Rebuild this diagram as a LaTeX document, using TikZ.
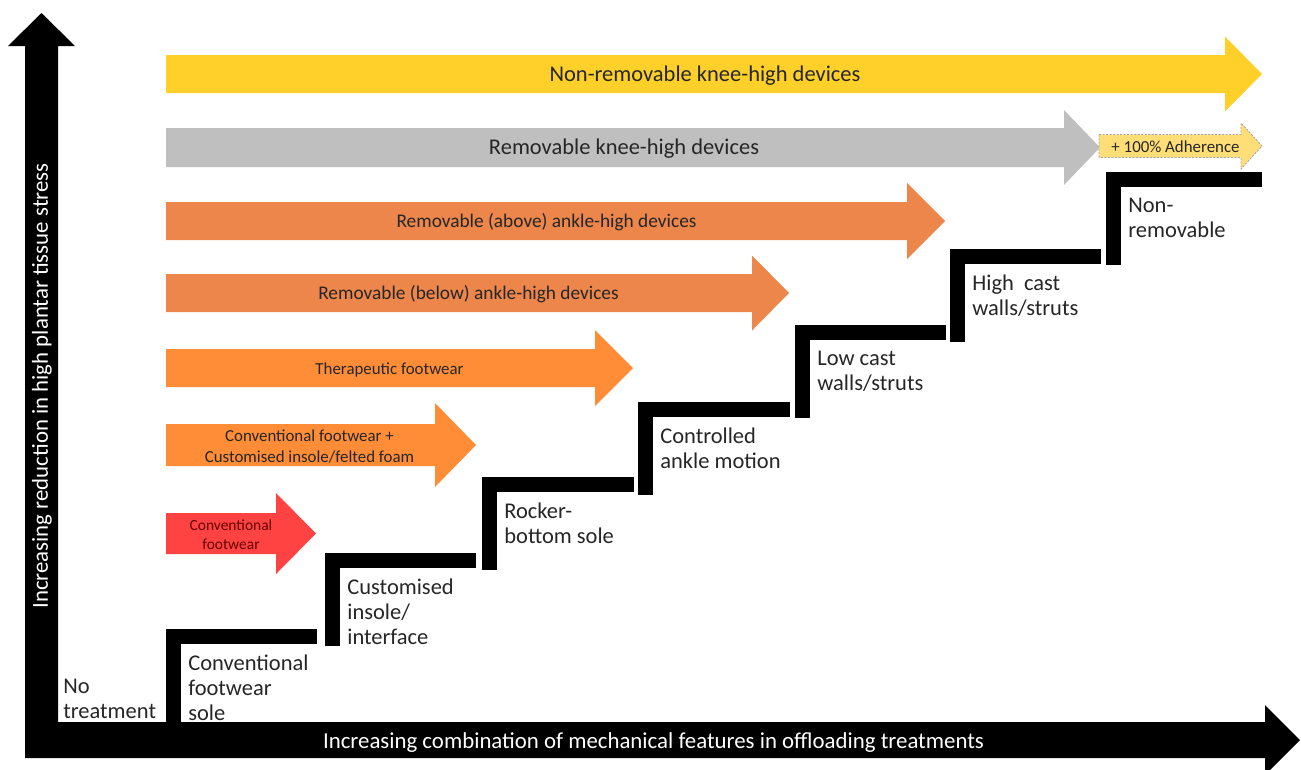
\documentclass[tikz,border=0pt]{standalone}
\usepackage{fontspec}
\setmainfont{Carlito}
\usepackage{xcolor}
\usepackage{tikz}
\usetikzlibrary{positioning}

\definecolor{barYellow}{RGB}{255,208,42}
\definecolor{barGray}{RGB}{191,191,191}
\definecolor{barOrange}{RGB}{236,134,74}
\definecolor{barLight}{RGB}{255,141,56}
\definecolor{barRed}{RGB}{255,66,66}
\definecolor{adhFill}{RGB}{255,222,120}
\definecolor{barText}{RGB}{38,38,38}
\definecolor{redText}{RGB}{100,0,0}

\begin{document}
\begin{tikzpicture}[
    x=0.02cm, y=-0.02cm,
    every node/.style={font=\fontsize{12.8}{14.2}\selectfont, inner sep=0pt},
    barlabel/.style={text=barText, align=center},
    steplabel/.style={anchor=north west, align=left, text=barText},
    axislabel/.style={text=white, font=\fontsize{13}{15}\selectfont},
    stair/.style={line width=0.3cm, line join=miter, line cap=butt},
    adharrow/.style={fill=adhFill, draw=gray!70, line width=0.5pt, dash pattern=on 1.2pt off 0.8pt}
]
\useasboundingbox (0,0) rectangle (1301,769);

% Axes
\fill[black] (25,758) -- (25,46) -- (8,46) -- (41.5,13) -- (75,46) -- (58,46) -- (58,722)
    -- (1265,722) -- (1265,705) -- (1300,740) -- (1265,775) -- (1265,758) -- cycle;
\node[axislabel, rotate=90] (ylab) at (42,386) {Increasing reduction in high plantar tissue stress};
\node[axislabel] (xlab) at (653.5,743) {Increasing combination of mechanical features in offloading treatments};

% Device arrows
\foreach \name/\yc/\hs/\hb/\tip/\hh/\col/\tx/\fs/\bs/\tc/\txt in {
    nonrem/74/19/1225/1262/37.5/barYellow/705/12.8/14.2/barText/{Non-removable knee-high devices},
    remknee/147.5/19.5/1064/1100/37.5/barGray/624/12.8/14.2/barText/{Removable knee-high devices},
    remabove/221/19/907/945/38/barOrange/546.5/11/13/barText/{Removable (above) ankle-high devices},
    rembelow/293/19/752/789/37.5/barOrange/468.5/11/13/barText/{Removable (below) ankle-high devices},
    therap/368/19/595/633/38/barLight/389.5/9.6/11.5/barText/{Therapeutic footwear},
    convins/445/21/435/476/42/barLight/309.5/9.6/11.9/barText/{Conventional footwear +\\Customised insole/felted foam},
    conv/533.5/20.5/276/316/40.5/barRed/231/8.8/10.8/redText/{Conventional\\footwear}} {
    \fill[\col] (166,{\yc-\hs}) -- (\hb,{\yc-\hs}) -- (\hb,{\yc-\hh}) -- (\tip,\yc)
        -- (\hb,{\yc+\hh}) -- (\hb,{\yc+\hs}) -- (166,{\yc+\hs}) -- cycle;
    \node[barlabel, text=\tc, font=\fontsize{\fs}{\bs}\selectfont] (\name) at (\tx,{\yc+1.5}) {\txt};
}

% Adherence
\draw[adharrow] (1099,134.5) -- (1241,134.5) -- (1241,123) -- (1262,146) -- (1241,169) -- (1241,157.5) -- (1099,157.5) -- cycle;
\node[barlabel, font=\fontsize{9.6}{11.5}\selectfont] (adh) at (1175.5,147) {+ 100\% Adherence};

% Stairs
\foreach \name/\sx/\sy/\ex/\txt in {
    sole/166/629/317/{Conventional\\footwear\\sole},
    insole/325/553/476/{Customised\\insole/\\interface},
    rocker/482/477/634/{Rocker-\\bottom sole},
    ankle/638/402/790/{Controlled\\ankle motion},
    lowcast/795/325/946/{Low cast\\walls/struts},
    highcast/950/249/1101/{High\ \ cast\\walls/struts},
    nonremov/1106/172/1262/{Non-\\removable}} {
    \draw[stair] ({\sx+7.5},{\sy+93}) -- ({\sx+7.5},{\sy+7.5}) -- (\ex,{\sy+7.5});
    \node[steplabel] (\name) at ({\sx+22},{\sy+26}) {\txt};
}
\node[steplabel] (none) at (63,679) {No\\treatment};

\end{tikzpicture}
\end{document}
